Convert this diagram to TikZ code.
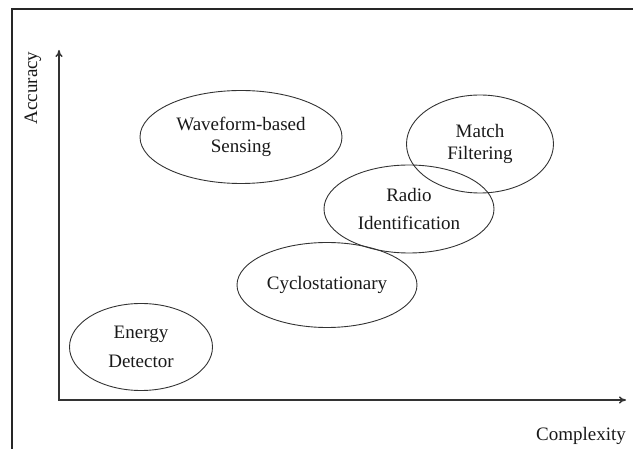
\documentclass[tikz,border=0pt]{standalone}
\usepackage{fontspec}
\setmainfont{Liberation Serif}
\usetikzlibrary{shapes.geometric,arrows.meta}
\begin{document}
\begin{tikzpicture}[x=1pt,y=-1pt,
  frameline/.style={line width=2pt,draw=black!85},
  axisline/.style={line width=1.4pt,draw=black!80,-{To[length=7pt,width=7pt]}},
  oval/.style={ellipse,draw=black!80,line width=0.9pt,inner sep=0pt,align=center,
    font=\fontsize{19}{22}\selectfont,text=black!90},
  axislabel/.style={font=\fontsize{19}{22}\selectfont,text=black!90,inner sep=0pt}]
\useasboundingbox (0,0) rectangle (633,449);
% frame (only left and top edges visible)
\coordinate (fbl) at (12,449);
\coordinate (ftl) at (12,9);
\coordinate (ftr) at (633,9);
\draw[frameline] (fbl) -- (ftl) -- (ftr);
% axes
\coordinate (O) at (59,400);
\coordinate (ytop) at (59,50);
\coordinate (xend) at (626,400);
\draw[axisline] (O) -- (ytop);
\draw[axisline] ([xshift=-0.7pt]O) -- (xend);
\node[axislabel,rotate=90] (acc) at (33,88) {Accuracy};
\node[axislabel] (cpx) at (581,436) {Complexity};
% ellipses
\node[oval,minimum width=202pt,minimum height=93pt] (wave) at (241,137) {Waveform-based\\Sensing};
\node[oval,minimum width=147pt,minimum height=98pt] (match) at (480,144) {Match\\Filtering};
\node[oval,minimum width=170pt,minimum height=88pt] (radio) at (409,209) {Radio\\[6pt]Identification};
\node[oval,minimum width=180pt,minimum height=85pt] (cyclo) at (327,285) {Cyclostationary};
\node[oval,minimum width=143pt,minimum height=87pt] (energy) at (141,347) {Energy\\[7pt]Detector};
\end{tikzpicture}
\end{document}
